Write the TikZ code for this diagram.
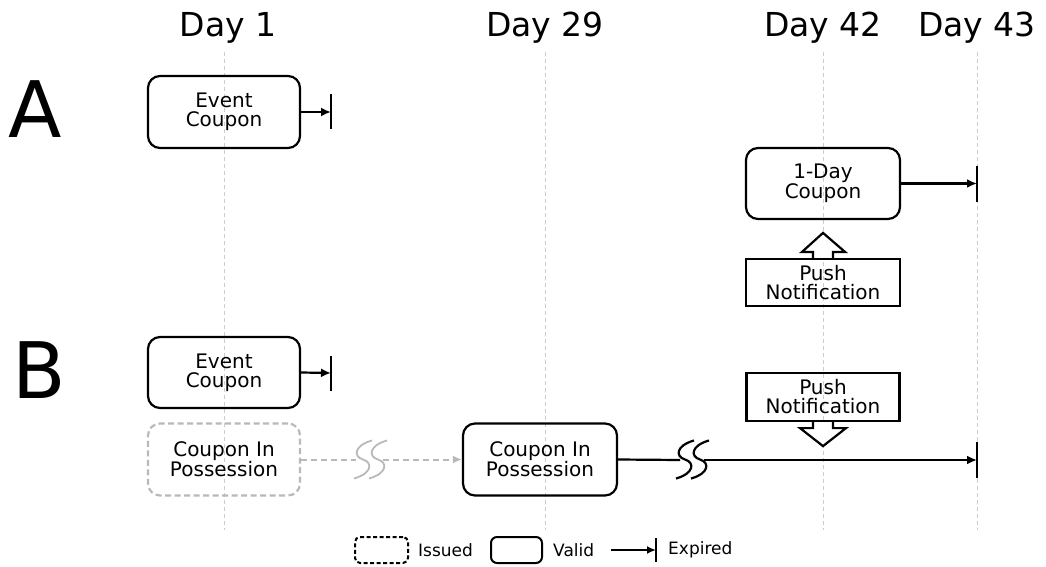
\documentclass[tikz,border=0pt]{standalone}
\usepackage{fontspec}
\setmainfont{DejaVu Sans}
\usetikzlibrary{arrows.meta,calc}
\begin{document}
\begin{tikzpicture}[x=1pt,y=-1pt,
  every node/.style={font=\fontsize{20}{19}\selectfont, align=center, inner sep=0pt},
  box/.style={draw, line width=2.2pt, rounded corners=12pt, minimum width=152pt, minimum height=72pt},
  issuedbox/.style={box, draw=gray!55, dash pattern=on 6pt off 3.5pt},
  pushbox/.style={draw, line width=2.2pt, minimum width=154pt, minimum height=47pt},
  daylbl/.style={font=\fontsize{33}{36}\selectfont, anchor=base},
  biglbl/.style={font=\fontsize{78}{80}\selectfont, anchor=base},
  guide/.style={draw=gray!40, line width=0.9pt, dash pattern=on 4pt off 3pt},
  conn/.style={line width=2.2pt, -{Latex[length=10pt,width=9pt]}},
  grayconn/.style={line width=2pt, draw=gray!55, dash pattern=on 6pt off 4pt},
  bar/.style={line width=2.2pt},
  blockarrow/.style={draw, line width=2.2pt, fill=white, line join=miter},
  legtxt/.style={font=\fontsize{17}{19}\selectfont, anchor=west},
  brk/.pic={\draw (9,-19) .. controls (-9,-14) and (-10,-3) .. (0,0) .. controls (10,3) and (9,14) .. (-9,19);}
]
\useasboundingbox (0,0) rectangle (1046,567);

% guides
\foreach \gx in {224,545,823,977} \draw[guide] (\gx,52) -- (\gx,530);

% day labels
\node[daylbl] (d1) at (228,37) {Day 1};
\node[daylbl] (d29) at (545,37) {Day 29};
\node[daylbl] (d42) at (823,37) {Day 42};
\node[daylbl] (d43) at (977,37) {Day 43};

% section letters
\node[biglbl] (lA) at (35,138) {A};
\node[biglbl] (lB) at (39,398) {B};

% ---- A ----
\node[box] (ecA) at (224,112) {Event\\Coupon};
\coordinate (xA) at (331,112);
\draw[conn] (ecA.east) -- (xA);
\draw[bar] ($(xA)+(0,-17.5)$) -- ($(xA)+(0,17.5)$);

\node[box, minimum width=154pt, minimum height=71pt] (odc) at (823,183.5) {1-Day\\Coupon};
\coordinate (xO) at (977,183.5);
\draw[conn] (odc.east) -- (xO);
\draw[bar] ($(xO)+(0,-18)$) -- ($(xO)+(0,18)$);

\node[pushbox] (pushA) at (823,282.5) {Push\\Notification};
\draw[blockarrow] ($(pushA.north)+(-10,0)$) -- ++(0,-6) -- ++(-11,0) -- ($(pushA.north)+(0,-25)$)
  -- ($(pushA.north)+(22,-6)$) -- ++(-12,0) -- ++(0,6);

% ---- B ----
\node[box, minimum height=71pt] (ecB) at (224,372.5) {Event\\Coupon};
\coordinate (xB) at (331,373);
\draw[conn] (ecB.east) -- (xB);
\draw[bar] ($(xB)+(0,-17.5)$) -- ($(xB)+(0,17.5)$);

\node[issuedbox] (iss) at (224,459.5) {Coupon In\\Possession};
\node[box, minimum width=154pt] (cip) at (540,459.5) {Coupon In\\Possession};

\coordinate (g1) at (356,459.5);
\coordinate (g2) at (383,459.5);
\draw[grayconn] (iss.east) -- (g1);
\draw[grayconn, -{Latex[length=9pt,width=8pt]}] (g2) -- (cip.west);
\pic[draw=gray!55, line width=1.8pt] at (363,459.5) {brk};
\pic[draw=gray!55, line width=1.8pt] at (378,459.5) {brk};

\coordinate (s1) at (680,460);
\coordinate (s2) at (704,460);
\coordinate (xC) at (977,460);
\draw[line width=2.2pt] (cip.east) -- (s1);
\draw[conn] (s2) -- (xC);
\draw[bar] ($(xC)+(0,-18)$) -- ($(xC)+(0,18)$);
\pic[line width=2.2pt] at (685,459.5) {brk};
\pic[line width=2.2pt] at (700,459.5) {brk};

\node[pushbox, minimum width=153pt, minimum height=48pt] (pushB) at (823,397) {Push\\Notification};
\draw[blockarrow] ($(pushB.south)+(-10,0)$) -- ++(0,6) -- ++(-13,0) -- ($(pushB.south)+(0,24)$)
  -- ($(pushB.south)+(23,6)$) -- ++(-13,0) -- ++(0,-6);

% ---- legend ----
\node[draw, line width=2pt, rounded corners=5pt, dash pattern=on 4pt off 2.5pt, minimum width=53pt, minimum height=26pt] (lgI) at (381.5,550) {};
\node[legtxt] (lgIt) at (418,550) {Issued};
\node[draw, line width=2pt, rounded corners=6pt, minimum width=51pt, minimum height=26pt] (lgV) at (516.5,550) {};
\node[legtxt] (lgVt) at (553,550) {Valid};
\coordinate (lga) at (611,550);
\coordinate (lgx) at (656,550);
\draw[line width=2pt, -{Latex[length=9pt,width=8pt]}] (lga) -- (lgx);
\draw[line width=2pt] ($(lgx)+(0,-12)$) -- ($(lgx)+(0,12)$);
\node[legtxt] (lgEt) at (668,550) {Expired};
\end{tikzpicture}
\end{document}
